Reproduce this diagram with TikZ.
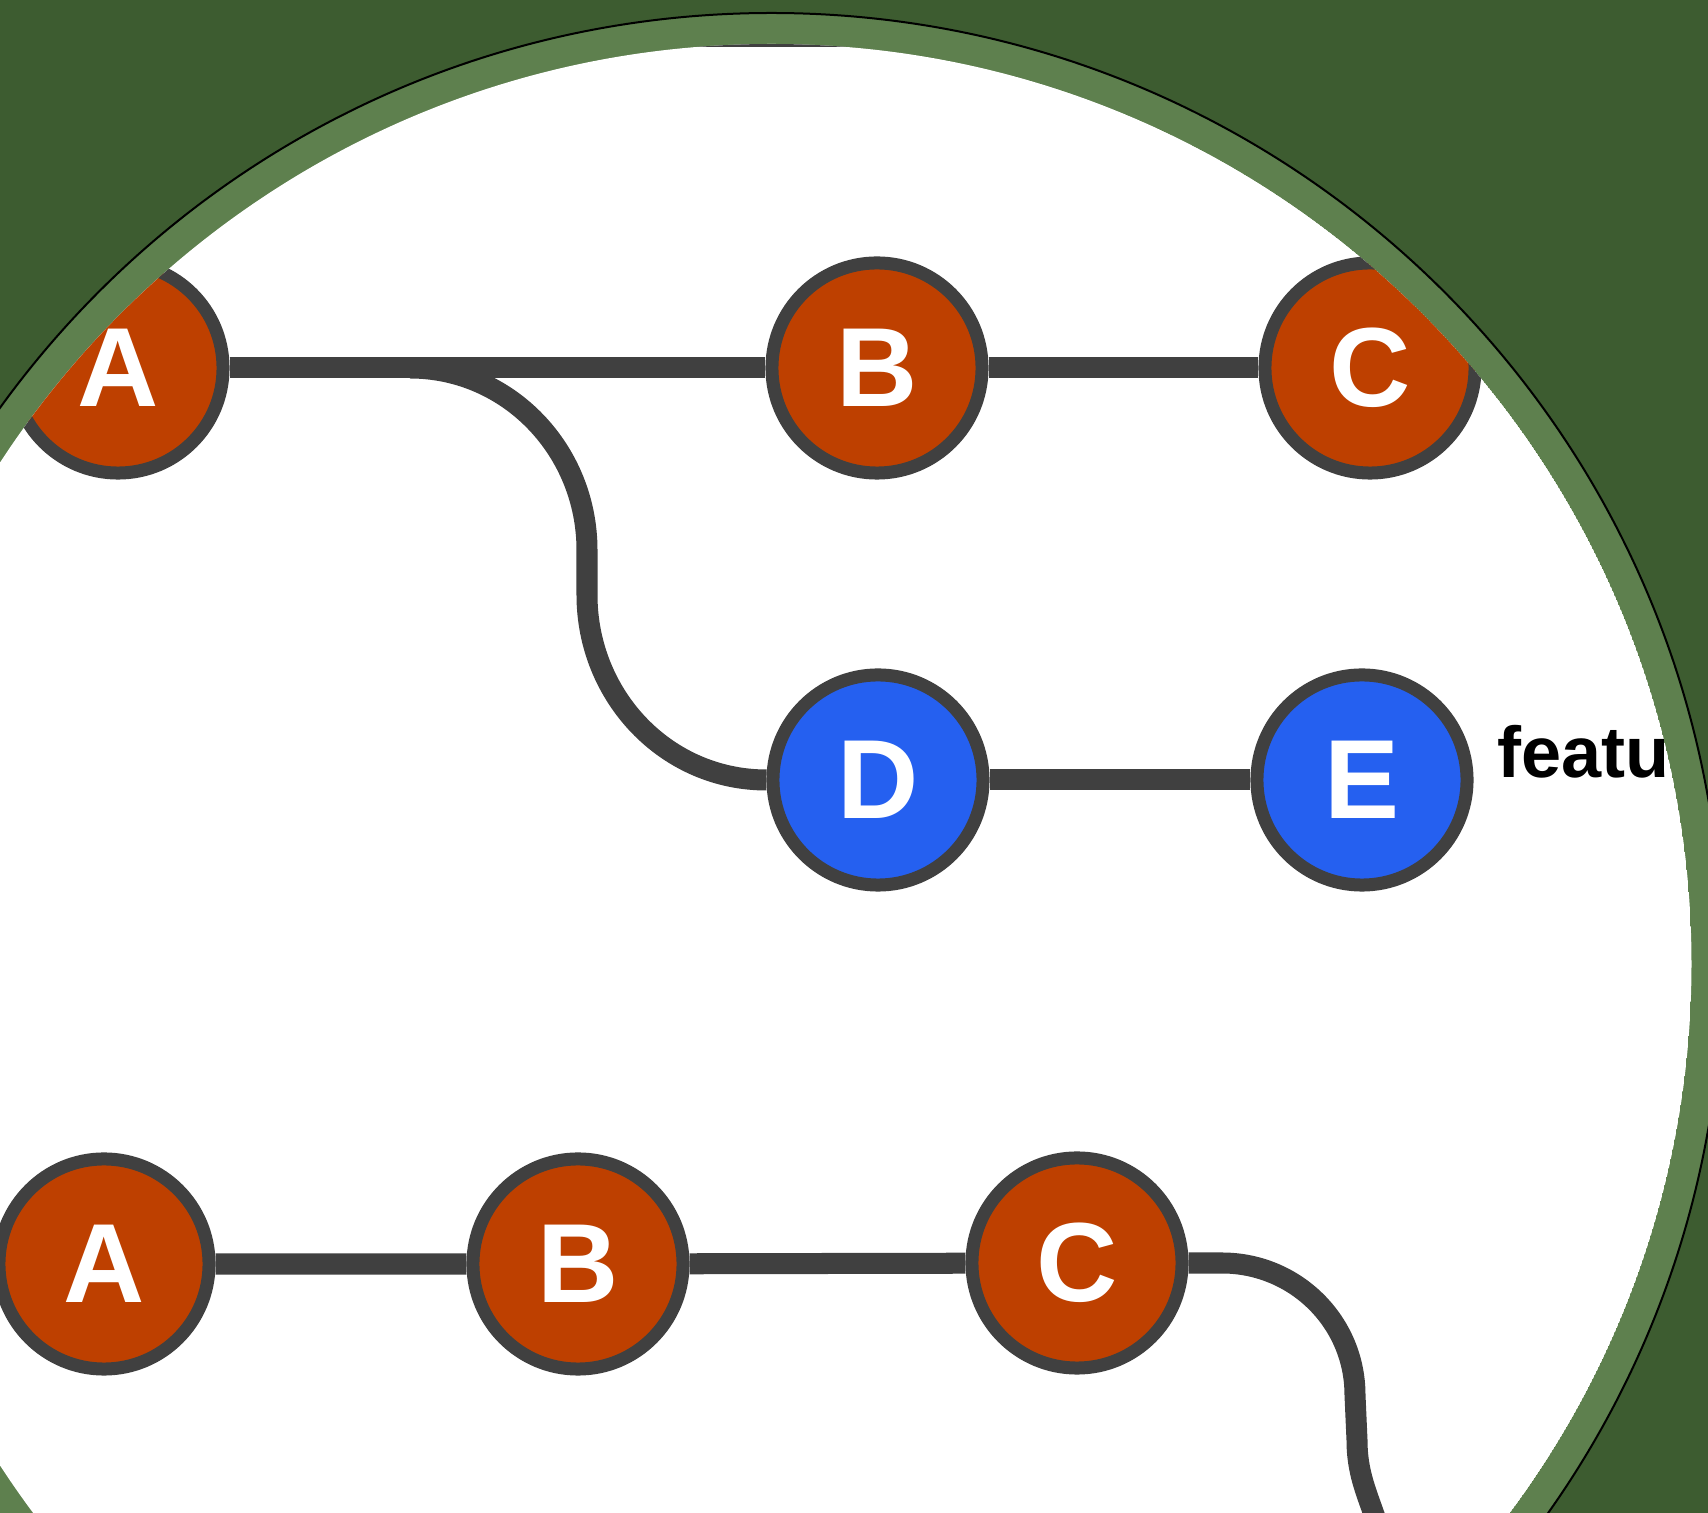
\documentclass[tikz,border=0pt]{standalone}
\usepackage{fontspec}
\setmainfont{Liberation Sans}
\definecolor{slidegreen}{RGB}{61,92,48}
\definecolor{ringgreen}{RGB}{94,128,78}
\definecolor{mainorange}{RGB}{190,64,0}
\definecolor{featblue}{RGB}{37,96,240}
\definecolor{edgegray}{RGB}{64,64,64}
\tikzset{
  commit/.style={circle, draw=edgegray, line width=0.13cm, minimum size=2.1cm, inner sep=0pt,
    text=white, font=\fontsize{32}{34}\selectfont\bfseries},
  master/.style={commit, fill=mainorange},
  feat/.style={commit, fill=featblue},
  link/.style={edgegray, line width=0.21cm}
}
\begin{document}
\begin{tikzpicture}[x=0.01cm, y=0.01cm]
                \useasboundingbox (0,0) rectangle (1708,-1513);
                \fill[slidegreen] (0,0) rectangle (1708,-1513);
                \filldraw[ringgreen, draw=black, line width=0.02cm] (771.5,-964) circle (951);
                \begin{scope}
                \clip (771.5,-964) circle (920);
                \fill[white] (771.5,-964) circle (920);
                \draw[edgegray, line width=0.03cm] (680,-46) -- (860,-46);
                \node[master] (A1) at (118,-368) {A};
                \node[master] (B1) at (877,-368) {B};
                \node[master] (C1) at (1370,-368) {C};
                \node[feat] (D) at (878,-780) {D};
                \node[feat] (E) at (1362,-780) {E};
                \node[font=\fontsize{20.5}{24}\selectfont\bfseries, anchor=base west, inner sep=0pt] (featlabel) at (1497,-778) {feature};
                \node[master] (A2) at (104,-1264) {A};
                \node[master] (B2) at (578,-1264) {B};
                \node[master] (C2) at (1077,-1263) {C};
                \coordinate (fork) at (410,-368);
                \coordinate (tail) at (1382,-1540);
                \draw[link] (A1) -- (B1) -- (C1);
                \draw[link] (fork) to[out=0,in=90] (587,-550) -- (587,-595) to[out=-90,in=180] (D);
                \draw[link] (D) -- (E);
                \draw[link] (A2) -- (B2) -- (C2);
                \draw[link] (C2) -- (1222,-1263) to[out=0,in=90] (1355,-1395) -- (1357,-1440) to[out=-90,in=105] (tail);
                \end{scope}
            \end{tikzpicture}
\end{document}
